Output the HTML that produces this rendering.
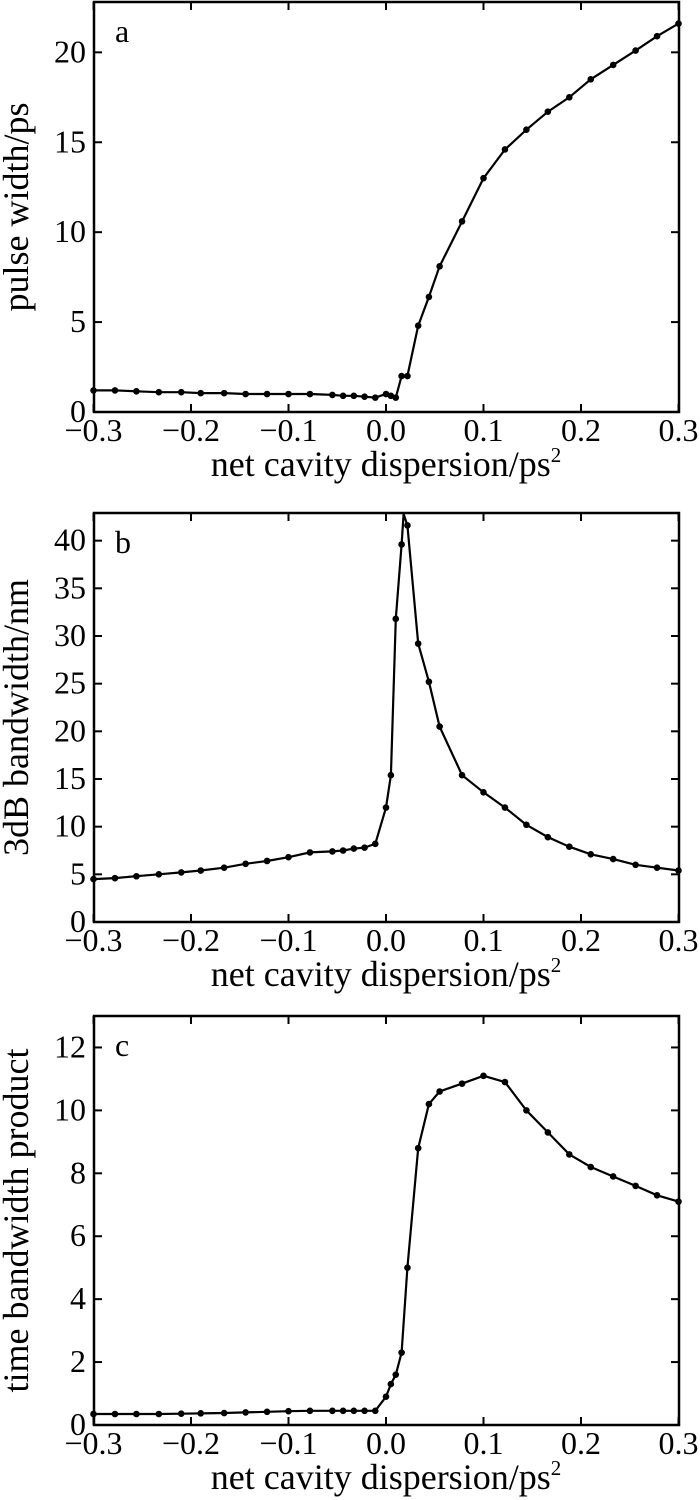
<!DOCTYPE html>
<html><head><meta charset="utf-8"><style>
body{margin:0;background:#fff;}
svg{display:block;font-family:"Liberation Serif",serif;}
</style></head><body>
<svg id="s" width="700" height="1500" viewBox="0 0 700 1500" xmlns="http://www.w3.org/2000/svg"></svg>
<script>
const xs=[-0.3,-0.278,-0.256,-0.233,-0.21,-0.19,-0.166,-0.144,-0.122,-0.1,-0.078,-0.055,-0.044,-0.033,-0.022,-0.011,0,0.005,0.01,0.016,0.022,0.033,0.044,0.055,0.078,0.1,0.122,0.144,0.166,0.188,0.21,0.233,0.256,0.278,0.3];
const A=[1.2,1.2,1.15,1.1,1.1,1.05,1.05,1.0,1.0,1.0,1.0,0.95,0.9,0.9,0.85,0.8,1.0,0.9,0.8,2.0,2.0,4.8,6.4,8.1,10.6,13.0,14.6,15.7,16.7,17.5,18.5,19.3,20.1,20.9,21.6];
const B=[4.5,4.6,4.8,5.0,5.2,5.4,5.7,6.1,6.4,6.8,7.3,7.4,7.5,7.7,7.8,8.2,12.0,15.4,31.8,39.6,41.6,29.2,25.2,20.5,15.4,13.6,12.0,10.2,8.9,7.9,7.1,6.6,6.0,5.7,5.4];
const C=[0.35,0.35,0.35,0.35,0.36,0.37,0.38,0.4,0.42,0.44,0.45,0.45,0.45,0.45,0.45,0.45,0.9,1.3,1.6,2.3,5.0,8.8,10.2,10.6,10.85,11.1,10.9,10.0,9.3,8.6,8.2,7.9,7.6,7.3,7.1];
const L=94,R=679;
const X=v=>386+v*(R-L)/0.6;
let h='';
function panel(top,bot,ymax,ticks,data,letter,ylabel,extra){
  const Y=v=>bot-v*(bot-top)/ymax;
  h+=`<rect x="${L}" y="${top}" width="${R-L}" height="${bot-top}" fill="none" stroke="#000" stroke-width="2.5"/>`;
  for(let t=-0.3;t<=0.301;t+=0.1){const x=X(t);h+=`<line x1="${x}" y1="${bot}" x2="${x}" y2="${bot-8}" stroke="#000" stroke-width="2"/><line x1="${x}" y1="${top}" x2="${x}" y2="${top+8}" stroke="#000" stroke-width="2"/>`;
    let lab=(Math.abs(t)<1e-6?'0.0':(t<0?'\u22120.'+Math.round(-t*10):'0.'+Math.round(t*10)));
    h+=`<text x="${x}" y="${bot+29}" font-size="32" text-anchor="middle">${lab}</text>`;}
  ticks.forEach(v=>{const y=Y(v);h+=`<line x1="${L}" y1="${y}" x2="${L+8}" y2="${y}" stroke="#000" stroke-width="2"/><line x1="${R}" y1="${y}" x2="${R-8}" y2="${y}" stroke="#000" stroke-width="2"/><text x="${L-8}" y="${y+10}" font-size="32" text-anchor="end">${v}</text>`;});
  let pts=xs.map((x,i)=>[X(x),Y(data[i])]);
  if(extra) pts=extra(pts,Y);
  h+=`<polyline points="${pts.map(p=>p[0].toFixed(1)+','+p[1].toFixed(1)).join(' ')}" fill="none" stroke="#000" stroke-width="2.2"/>`;
  xs.forEach((x,i)=>{h+=`<circle cx="${X(x)}" cy="${Y(data[i])}" r="3.3" fill="#000"/>`;});
  h+=`<text x="${L+21}" y="${top+40}" font-size="32">${letter}</text>`;
  const cy=(top+bot)/2;
  h+=`<text transform="translate(28,${cy}) rotate(-90)" font-size="36" text-anchor="middle">${ylabel}</text>`;
  h+=`<text x="386" y="${bot+64}" font-size="36" text-anchor="middle">net cavity dispersion/ps<tspan font-size="21" dy="-14">2</tspan></text>`;
}
panel(2,412,22.8,[0,5,10,15,20],A,'a','pulse width/ps');
panel(513,922,42.9,[0,5,10,15,20,25,30,35,40],B,'b','3dB bandwidth/nm',(p,Y)=>{p.splice(20,0,[X(0.018),Y(42.8)]);return p;});
panel(1016,1425,13,[0,2,4,6,8,10,12],C,'c','time bandwidth product');
document.getElementById('s').innerHTML=h;
</script>
</body></html>
